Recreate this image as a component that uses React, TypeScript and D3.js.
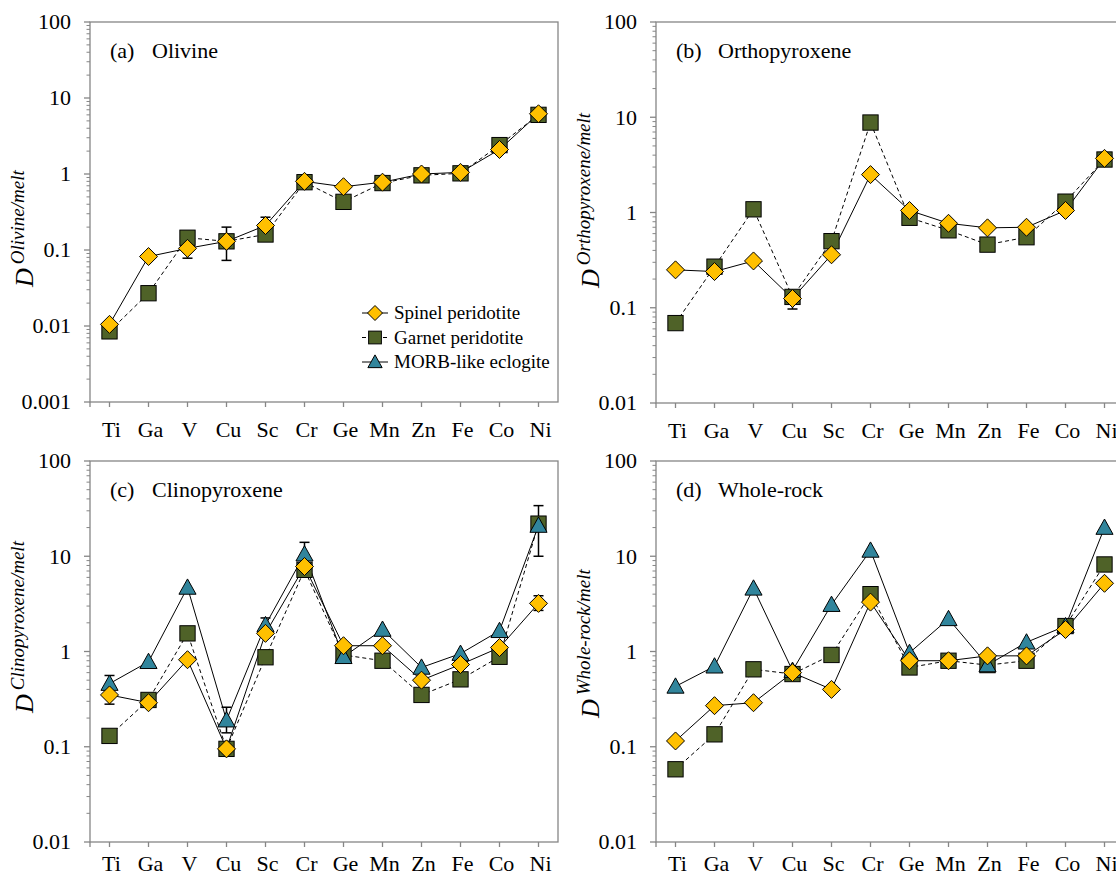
import React, { useEffect, useRef } from "react";
import * as d3 from "d3";

// element order on the x axis
const elements = ["Ti", "Ga", "V", "Cu", "Sc", "Cr", "Ge", "Mn", "Zn", "Fe", "Co", "Ni"];

const seriesNames = ["Spinel peridotite", "Garnet peridotite", "MORB-like eclogite"];

// (a) olivine
const olSpinel = [0.0105, 0.082, 0.105, 0.13, 0.21, 0.8, 0.68, 0.78, 1.0, 1.05, 2.1, 6.2];
const olGarnet = [0.0085, 0.027, 0.145, 0.13, 0.16, 0.78, 0.43, 0.76, 0.96, 1.02, 2.4, 6.0];

// (b) orthopyroxene
const opxSpinel = [0.25, 0.24, 0.31, 0.125, 0.36, 2.5, 1.05, 0.77, 0.69, 0.7, 1.05, 3.7];
const opxGarnet = [0.069, 0.27, 1.08, 0.13, 0.5, 8.8, 0.88, 0.65, 0.46, 0.55, 1.3, 3.6];

// (c) clinopyroxene
const cpxSpinel = [0.35, 0.29, 0.82, 0.095, 1.55, 7.8, 1.15, 1.15, 0.5, 0.73, 1.1, 3.2];
const cpxGarnet = [0.13, 0.31, 1.55, 0.095, 0.87, 7.2, 0.92, 0.8, 0.35, 0.51, 0.88, 22];
const cpxMorb = [0.46, 0.78, 4.7, 0.19, 1.9, 10.5, 0.88, 1.7, 0.68, 0.95, 1.65, 21];

// (d) whole-rock
const wrSpinel = [0.115, 0.27, 0.29, 0.6, 0.4, 3.3, 0.8, 0.8, 0.9, 0.9, 1.7, 5.2];
const wrGarnet = [0.058, 0.135, 0.65, 0.58, 0.92, 4.0, 0.68, 0.8, 0.72, 0.8, 1.85, 8.2];
const wrMorb = [0.43, 0.7, 4.6, 0.63, 3.1, 11.5, 0.97, 2.2, 0.72, 1.25, 1.85, 20];

// error bars: [element, low, high]
const olErrors = [["V", 0.078, 0.13], ["Cu", 0.073, 0.2], ["Sc", 0.15, 0.27], ["Cr", 0.68, 0.92]];
const opxErrors = [["Cu", 0.097, 0.15]];
const cpxErrors = [["Ti", 0.28, 0.56], ["Cu", 0.14, 0.26], ["Sc", 1.6, 2.25], ["Cr", 8, 14], ["Ni", 10, 34], ["Ni", 2.7, 3.85]];
const wrErrors = [];

const FONT = "'Liberation Serif', 'Times New Roman', serif";
const AXIS = "#868686";
const colors = { spinel: "#FFC000", garnet: "#4F6228", morb: "#31859C" };

const panels = [
  { tag: "(a)", name: "Olivine", sup: "Olivine/melt", x0: 90, y0: 22, y1: 402, domain: [0.001, 100],
    spinel: olSpinel, garnet: olGarnet, morb: null, errors: olErrors, dy: 287, lab: 35, legend: true },
  { tag: "(b)", name: "Orthopyroxene", sup: "Orthopyroxene/melt", x0: 656, y0: 22, y1: 403, domain: [0.01, 100],
    spinel: opxSpinel, garnet: opxGarnet, morb: null, errors: opxErrors, dy: 288, lab: 35, legend: false },
  { tag: "(c)", name: "Clinopyroxene", sup: "Clinopyroxene/melt", x0: 90, y0: 461, y1: 842, domain: [0.01, 100],
    spinel: cpxSpinel, garnet: cpxGarnet, morb: cpxMorb, errors: cpxErrors, dy: 713, lab: 29, legend: false },
  { tag: "(d)", name: "Whole-rock", sup: "Whole-rock/melt", x0: 656, y0: 461, y1: 842, domain: [0.01, 100],
    spinel: wrSpinel, garnet: wrGarnet, morb: wrMorb, errors: wrErrors, dy: 718, lab: 29, legend: false },
];

const PW = 468;

function drawMarker(g, kind, x, y, s) {
  if (kind === "spinel") {
    g.append("path")
      .attr("d", `M${x},${y - s}L${x + s},${y}L${x},${y + s}L${x - s},${y}Z`)
      .attr("fill", colors.spinel).attr("stroke", "#000").attr("stroke-width", 1);
  } else if (kind === "garnet") {
    const h = s * 0.85;
    g.append("rect")
      .attr("x", x - h).attr("y", y - h).attr("width", 2 * h).attr("height", 2 * h)
      .attr("fill", colors.garnet).attr("stroke", "#000").attr("stroke-width", 1);
  } else {
    const w = s * 0.95;
    g.append("path")
      .attr("d", `M${x},${y - s * 0.95}L${x + w},${y + s * 0.75}L${x - w},${y + s * 0.75}Z`)
      .attr("fill", colors.morb).attr("stroke", "#000").attr("stroke-width", 1);
  }
}

export default function App() {
  const ref = useRef(null);

  useEffect(() => {
    const svg = d3.select(ref.current);
    svg.selectAll("*").remove();

    panels.forEach((p) => {
      const g = svg.append("g");
      const x = d3.scalePoint().domain(elements).range([p.x0, p.x0 + PW]).padding(0.5);
      const y = d3.scaleLog().domain(p.domain).range([p.y1, p.y0]);

      // frame
      g.append("rect")
        .attr("x", p.x0).attr("y", p.y0).attr("width", PW).attr("height", p.y1 - p.y0)
        .attr("fill", "none").attr("stroke", AXIS).attr("stroke-width", 1.3);

      // y ticks (major + minor)
      const [lo, hi] = p.domain;
      const decades = d3.range(Math.round(Math.log10(lo)), Math.round(Math.log10(hi)) + 1);
      decades.forEach((e) => {
        const v = Math.pow(10, e);
        g.append("line").attr("x1", p.x0 - 6).attr("x2", p.x0).attr("y1", y(v)).attr("y2", y(v))
          .attr("stroke", AXIS).attr("stroke-width", 1.3);
        g.append("text").attr("x", p.x0 - 19).attr("y", y(v)).attr("dy", "0.33em")
          .attr("text-anchor", "end").attr("font-family", FONT).attr("font-size", 22)
          .text(d3.format("~g")(+v.toPrecision(3)));
        if (v < hi) {
          d3.range(2, 10).forEach((m) => {
            const yy = y(v * m);
            g.append("line").attr("x1", p.x0 - 3.5).attr("x2", p.x0).attr("y1", yy).attr("y2", yy)
              .attr("stroke", AXIS).attr("stroke-width", 1);
          });
        }
      });

      // x ticks + labels
      elements.forEach((el) => {
        g.append("line").attr("x1", x(el)).attr("x2", x(el)).attr("y1", p.y1).attr("y2", p.y1 + 5)
          .attr("stroke", AXIS).attr("stroke-width", 1.3);
        g.append("text").attr("x", x(el) + 2).attr("y", p.y1 + p.lab)
          .attr("text-anchor", "middle").attr("font-family", FONT).attr("font-size", 22).text(el);
      });
      g.append("line").attr("x1", p.x0).attr("x2", p.x0).attr("y1", p.y1).attr("y2", p.y1 + 5)
        .attr("stroke", AXIS).attr("stroke-width", 1.3);

      // panel title
      g.append("text").attr("x", p.x0 + 20).attr("y", p.y0 + 36).attr("font-family", FONT)
        .attr("font-size", 22).text(p.tag);
      g.append("text").attr("x", p.x0 + 62).attr("y", p.y0 + 36).attr("font-family", FONT)
        .attr("font-size", 22).text(p.name);

      // y axis title
      const yt = g.append("text")
        .attr("transform", `translate(${p.x0 - 57},${p.dy}) rotate(-90)`)
        .attr("font-family", FONT).attr("font-style", "italic");
      yt.append("tspan").attr("font-size", 26).text("D");
      yt.append("tspan").attr("font-size", 19).attr("dx", 4).attr("dy", -9).text(p.sup);

      const series = [
        { key: "garnet", vals: p.garnet, dash: "4,3" },
        { key: "morb", vals: p.morb, dash: null },
        { key: "spinel", vals: p.spinel, dash: null },
      ].filter((s) => s.vals);

      const line = d3.line().x((d, i) => x(elements[i])).y((d) => y(d));
      series.forEach((s) => {
        g.append("path").attr("d", line(s.vals)).attr("fill", "none").attr("stroke", "#000")
          .attr("stroke-width", 1).attr("stroke-dasharray", s.dash);
      });

      // error bars
      p.errors.forEach(([el, a, b]) => {
        const cx = x(el);
        g.append("line").attr("x1", cx).attr("x2", cx).attr("y1", y(a)).attr("y2", y(b))
          .attr("stroke", "#000").attr("stroke-width", 1.5);
        [a, b].forEach((v) => {
          g.append("line").attr("x1", cx - 5).attr("x2", cx + 5).attr("y1", y(v)).attr("y2", y(v))
            .attr("stroke", "#000").attr("stroke-width", 1.5);
        });
      });

      series.forEach((s) => {
        s.vals.forEach((v, i) => drawMarker(g, s.key, x(elements[i]), y(v), 9));
      });

      if (p.legend) {
        const keys = ["spinel", "garnet", "morb"];
        const dashes = [null, "4,3", null];
        keys.forEach((k, i) => {
          const ly = 313 + i * 24.5;
          g.append("line").attr("x1", 362).attr("x2", 388).attr("y1", ly).attr("y2", ly)
            .attr("stroke", "#000").attr("stroke-width", 1).attr("stroke-dasharray", dashes[i]);
          drawMarker(g, k, 375, ly, 7.5);
          g.append("text").attr("x", 394).attr("y", ly).attr("dy", "0.33em")
            .attr("font-family", FONT).attr("font-size", 19).text(seriesNames[i]);
        });
      }
    });
  }, []);

  return (
    <svg ref={ref} width={1116} height={875}
      style={{ position: "absolute", left: 0, top: 0, background: "#fff" }} />
  );
}
